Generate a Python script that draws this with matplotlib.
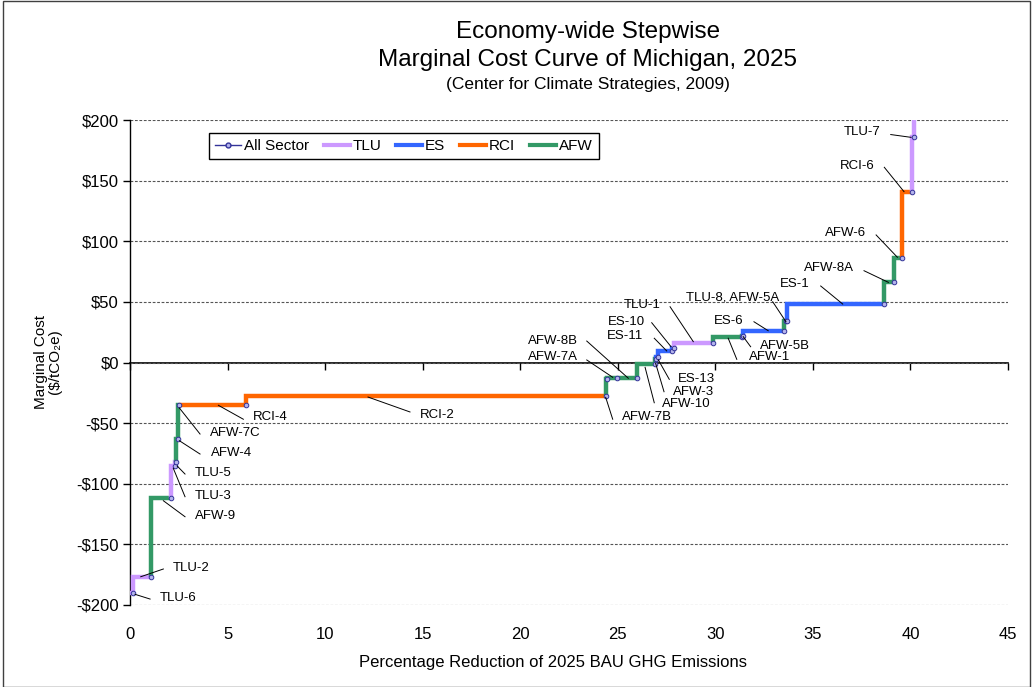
import matplotlib
matplotlib.use("Agg")
import matplotlib.pyplot as plt
from matplotlib.lines import Line2D
from matplotlib.patches import Rectangle
from matplotlib.ticker import FuncFormatter

plt.rcParams['font.family'] = ['Liberation Sans', 'DejaVu Sans']

# measures in order of cost, with the cumulative % reduction at the end of each step
measures = ["TLU-6", "TLU-2", "AFW-9", "TLU-3", "TLU-5", "AFW-4", "AFW-7C", "RCI-4",
            "RCI-2", "AFW-7B", "AFW-7A", "AFW-8B", "AFW-10", "AFW-3", "ES-13", "ES-11",
            "ES-10", "TLU-1", "AFW-1", "AFW-5B", "ES-6", "AFW-5A", "TLU-8", "ES-1",
            "AFW-8A", "AFW-6", "RCI-6", "TLU-7", "TLU (off scale)"]
sectors = ["TLU", "TLU", "AFW", "TLU", "TLU", "AFW", "AFW", "RCI",
           "RCI", "AFW", "AFW", "AFW", "AFW", "AFW", "ES", "ES",
           "ES", "TLU", "AFW", "AFW", "ES", "AFW", "TLU", "ES",
           "AFW", "AFW", "RCI", "TLU", "TLU"]
pct_end = [0.17, 1.06, 2.08, 2.30, 2.37, 2.47, 2.53, 5.95,
           24.38, 24.43, 24.98, 26.0, 26.9, 26.98, 27.05, 27.8,
           27.88, 29.9, 31.35, 31.42, 33.52, 33.64, 33.66, 38.62,
           39.17, 39.55, 40.1, 40.17, 40.2]
cost = [-190, -177, -112, -85, -82, -63, -35, -35,
        -28, -13.5, -13, -12.5, -1.2, 2.5, 4.5, 9.5,
        12, 16.3, 21, 22, 26, 34.5, 34.5, 48,
        66, 86, 140.5, 186, 260]

sector_names = ["TLU", "ES", "RCI", "AFW"]
sector_colors = {"TLU": "#CC99FF", "ES": "#3366FF", "RCI": "#FF6600", "AFW": "#339966"}
navy = "#333399"

# label text centre, leader start, leader end (data coords)
label_layout = [
    ("TLU-7", (37.53, 190.3), (38.99, 188.0), (40.03, 185.7)),
    ("RCI-6", (37.28, 162.3), (38.66, 161.0), (39.67, 140.9)),
    ("AFW-6", (36.65, 107.1), (38.24, 105.2), (39.33, 86.8)),
    ("AFW-8A", (35.84, 77.7), (37.62, 75.7), (38.87, 66.1)),
    ("ES-1", (34.08, 64.7), (35.40, 63.1), (36.53, 48.2)),
    ("TLU-8, AFW-5A", (30.9, 53.2), (32.94, 50.1), (33.62, 33.6)),
    ("ES-6", (30.7, 34.2), (31.98, 33.6), (32.71, 26.2)),
    ("AFW-5B", (33.57, 13.6), (31.81, 13.0), (31.43, 21.3)),
    ("AFW-1", (32.8, 4.3), (31.10, 2.6), (30.66, 20.0)),
    ("TLU-1", (26.23, 47.4), (27.68, 46.0), (28.87, 17.2)),
    ("ES-10", (25.42, 33.6), (26.74, 32.8), (27.73, 13.0)),
    ("ES-11", (25.37, 21.9), (26.87, 20.0), (27.51, 9.5)),
    ("AFW-8B", (21.68, 17.7), (23.41, 17.7), (25.54, -13.0)),
    ("AFW-7A", (21.68, 4.5), (23.41, 2.1), (24.74, -12.2)),
    ("ES-13", (29.05, -13.6), (27.64, -13.9), (27.08, 2.1)),
    ("AFW-3", (28.87, -24.1), (27.37, -24.1), (26.94, -0.7)),
    ("AFW-10", (28.53, -34.2), (26.87, -33.2), (26.40, -4.0)),
    ("AFW-7B", (26.48, -44.7), (24.74, -46.8), (24.38, -28.7)),
    ("RCI-2", (15.73, -43.3), (14.35, -40.8), (12.20, -28.5)),
    ("RCI-4", (7.18, -45.2), (5.81, -46.8), (4.53, -35.3)),
    ("AFW-7C", (5.38, -57.9), (3.59, -59.0), (2.53, -37.5)),
    ("AFW-4", (5.18, -74.4), (3.59, -75.5), (2.53, -64.5)),
    ("TLU-5", (4.27, -90.9), (2.82, -92.0), (2.42, -85.4)),
    ("TLU-3", (4.27, -109.9), (2.82, -110.7), (2.22, -87.3)),
    ("AFW-9", (4.36, -126.4), (2.82, -127.2), (1.71, -114.0)),
    ("TLU-2", (3.11, -169.2), (1.71, -170.3), (0.55, -176.7)),
    ("TLU-6", (2.48, -194.5), (1.03, -195.1), (0.26, -191.2)),
]

fig = plt.figure(figsize=(10.36, 6.87), dpi=100)
ax = fig.add_axes([130 / 1036, 82 / 687, 878 / 1036, 485 / 687])
ax.set_xlim(0, 45)
ax.set_ylim(-200, 200)

# all-sector step line underneath
starts = [0] + pct_end[:-1]
ax.step(starts + [pct_end[-1]], cost + [cost[-1]], where='post',
        color=navy, lw=1, zorder=2)

# coloured steps per measure
for i, (sec_name, x1, y1) in enumerate(zip(sectors, pct_end, cost)):
    x0 = starts[i]
    y0 = cost[i - 1] if i > 0 else y1
    ax.plot([x0, x0, x1], [y0, y1, y1], color=sector_colors[sec_name], lw=3.2,
            solid_joinstyle='miter', solid_capstyle='butt', zorder=3)

ax.plot(pct_end, cost, ls='none', marker='o', ms=3.3, mfc='#b4b4ec', mec=navy,
        mew=0.7, zorder=4)

for name, txt_xy, start, end in label_layout:
    ax.text(txt_xy[0], txt_xy[1], name, fontsize=9.5, ha='center', va='center', zorder=5)
    ax.plot([start[0], end[0]], [start[1], end[1]], color='black', lw=0.7, zorder=5)

# axes styling
for s in ['top', 'right', 'bottom']:
    ax.spines[s].set_visible(False)
ax.spines['left'].set_linewidth(1)
ax.set_yticks(range(-200, 201, 50))
ax.yaxis.set_major_formatter(FuncFormatter(lambda v, p: ("-$%d" % -v) if v < 0 else ("$%d" % v)))
ax.set_xticks(range(0, 50, 5))
ax.tick_params(axis='x', length=0, pad=16, labelsize=12)
ax.tick_params(axis='y', direction='out', length=5, width=1, pad=3, labelsize=12)
ax.grid(axis='y', ls=(0, (2.5, 1.5)), lw=0.8, color='#555555', zorder=0)

zero_ax = ax.secondary_xaxis(0.5)
zero_ax.set_alignment('bottom')
zero_ax.set_xticks(range(0, 50, 5))
zero_ax.tick_params(axis='x', direction='out', length=5, width=1,
                    labelbottom=False, labeltop=False)
zero_ax.spines['bottom'].set_linewidth(1.2)

handles = [Line2D([], [], color=navy, lw=1, marker='o', ms=3.5, mfc='#b4b4ec', mec=navy)]
handles += [Line2D([], [], color=sector_colors[s], lw=3) for s in sector_names]
ax.legend(handles, ["All Sector"] + sector_names, ncol=5, loc='upper left',
          bbox_to_anchor=(0.09, 0.973), borderaxespad=0, fontsize=11,
          handlelength=1.7, handletextpad=0.2, columnspacing=0.95,
          frameon=True, fancybox=False, edgecolor='black', framealpha=1)

fig.text(588 / 1036, 1 - 32 / 687, "Economy-wide Stepwise", fontsize=17.5,
         ha='center', va='center')
fig.text(588 / 1036, 1 - 60 / 687, "Marginal Cost Curve of Michigan, 2025", fontsize=17.5,
         ha='center', va='center')
fig.text(588 / 1036, 1 - 84 / 687, "(Center for Climate Strategies, 2009)", fontsize=12.5,
         ha='center', va='center')
fig.text(553 / 1036, 1 - 662 / 687, "Percentage Reduction of 2025 BAU GHG Emissions",
         fontsize=12, ha='center', va='center')
fig.text(48 / 1036, 1 - 362 / 687, "Marginal Cost\n($/tCO\u2082e)", fontsize=11,
         rotation=90, ha='center', va='center', linespacing=1.05)

fig.patches.append(Rectangle((3 / 1036, 0.5 / 687), 1027 / 1036, 686 / 687,
                             transform=fig.transFigure, fill=False,
                             edgecolor='#404040', lw=1))

fig.savefig("out.png", dpi=100)
